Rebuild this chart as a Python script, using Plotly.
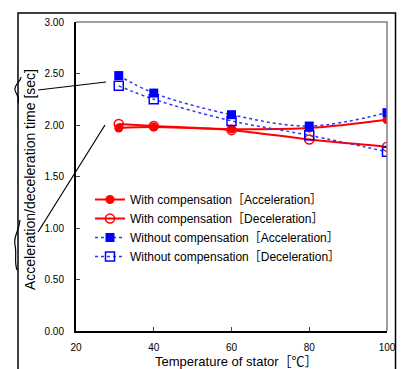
import plotly.graph_objects as go

temps = [31, 40, 60, 80, 100]
with_acc = [1.97, 1.98, 1.96, 1.97, 2.05]
with_dec = [2.01, 1.99, 1.95, 1.86, 1.79]
without_acc = [2.48, 2.31, 2.10, 1.99, 2.12]
without_dec = [2.38, 2.25, 2.04, 1.90, 1.74]

names = ["With compensation［Acceleration］", "With compensation［Deceleration］",
         "Without compensation［Acceleration］", "Without compensation［Deceleration］"]
x_title = "Temperature of stator［℃］"
y_title = "Acceleration/deceleration time [sec]"

FONT = "Liberation Sans, Arial, Noto Sans CJK JP, sans-serif"

fig = go.Figure()
fig.add_trace(go.Scatter(x=temps, y=with_acc, name=names[0], mode="lines+markers",
                         line=dict(color="#ff0000", width=2, shape="spline"),
                         marker=dict(symbol="circle", size=9, color="#ff0000")))
fig.add_trace(go.Scatter(x=temps, y=with_dec, name=names[1], mode="lines+markers",
                         line=dict(color="#ff0000", width=2, shape="spline"),
                         marker=dict(symbol="circle-open", size=9, color="#ff0000", line=dict(width=1.5))))
fig.add_trace(go.Scatter(x=temps, y=without_acc, name=names[2], mode="lines+markers",
                         line=dict(color="#3333ff", width=1.5, dash="dot", shape="spline"),
                         marker=dict(symbol="square", size=9, color="#0000ff")))
fig.add_trace(go.Scatter(x=temps, y=without_dec, name=names[3], mode="lines+markers",
                         line=dict(color="#3333ff", width=1.5, dash="dot", shape="spline"),
                         marker=dict(symbol="square-open", size=9, color="#0000ff", line=dict(width=1.5))))

W, H = 404, 369
L, R, T, B = 76, 387, 22, 331
def px(x):
    return (x - L) / (R - L)
def py(y):
    return (B - y) / (B - T)

shapes = []
# outer frame
shapes.append(dict(type="path", xref="paper", yref="paper",
                   path=f"M {px(18)},{py(380)} L {px(18)},{py(13)} L {px(395.5)},{py(13)} L {px(395.5)},{py(380)}",
                   line=dict(color="black", width=1.5)))
# callout lines
shapes.append(dict(type="line", xref="paper", yref="paper", x0=px(38), y0=py(90), x1=px(106), y1=py(82),
                   line=dict(color="black", width=1.2)))
shapes.append(dict(type="line", xref="paper", yref="paper", x0=px(38), y0=py(232), x1=px(105), y1=py(125),
                   line=dict(color="black", width=1.2)))
# break squiggles on left frame
shapes.append(dict(type="path", xref="paper", yref="paper",
                   path=(f"M {px(21)},{py(77)} C {px(21)},{py(82)} {px(14)},{py(84)} {px(15)},{py(90)} "
                         f"C {px(16)},{py(95)} {px(20)},{py(96)} {px(18)},{py(103)}"),
                   line=dict(color="black", width=1.2)))
shapes.append(dict(type="path", xref="paper", yref="paper",
                   path=(f"M {px(20)},{py(220)} C {px(19)},{py(232)} {px(13)},{py(236)} {px(15)},{py(245)} "
                         f"C {px(17)},{py(254)} {px(14)},{py(262)} {px(17)},{py(270)}"),
                   line=dict(color="black", width=1.2)))
# gray top/right frame
shapes.append(dict(type="path", xref="paper", yref="paper", path="M 0,1 L 1,1 L 1,0",
                   line=dict(color="#808080", width=1.5)))

annotations = [
    dict(text=x_title, xref="paper", yref="paper", x=px(236), y=py(361), xanchor="center", yanchor="middle",
         showarrow=False, font=dict(size=13, family=FONT)),
    dict(text=y_title, xref="paper", yref="paper", x=px(30), y=py(180), xanchor="center", yanchor="middle",
         textangle=-90, showarrow=False, font=dict(size=14, family=FONT)),
]

fig.update_layout(
    width=W, height=H,
    margin=dict(l=L, r=W - R, t=T, b=H - B, autoexpand=False),
    paper_bgcolor="white", plot_bgcolor="white",
    font=dict(family=FONT, size=10, color="black"),
    showlegend=True,
    legend=dict(x=px(90), y=py(185), xanchor="left", yanchor="top",
                bgcolor="rgba(0,0,0,0)", font=dict(size=12, family=FONT),
                itemwidth=30, tracegroupgap=0),
    shapes=shapes,
    annotations=annotations,
)
fig.update_xaxes(range=[20, 100], dtick=20, tick0=20, ticks="inside", ticklen=4,
                 showgrid=False, zeroline=False, automargin=False,
                 showline=True, linecolor="black", linewidth=2, mirror=False,
                 ticklabelstandoff=6, tickfont=dict(size=10))
fig.update_yaxes(range=[0, 3], dtick=0.5, tick0=0, tickformat=".2f", ticks="inside", ticklen=4,
                 showgrid=False, zeroline=False, automargin=False,
                 showline=True, linecolor="black", linewidth=2, mirror=False,
                 ticklabelstandoff=8, tickfont=dict(size=10))

fig.write_html("out.html", config={"displayModeBar": False},
               post_script="document.body.style.margin='0';document.body.style.overflow='hidden';")
